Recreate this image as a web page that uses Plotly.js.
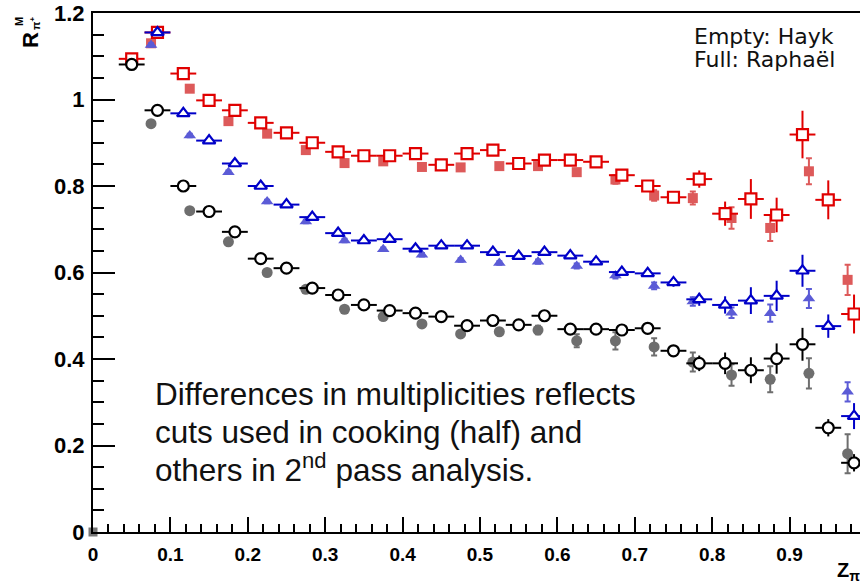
<!DOCTYPE html>
<html>
<head>
<meta charset="utf-8">
<script src="https://cdn.plot.ly/plotly-3.0.1.min.js"></script>
<style>html,body{margin:0;padding:0;background:#fff;overflow:hidden}#chart{width:860px;height:583px}</style>
</head>
<body>
<div id="chart"></div>
<script>
// bin centres (open markers: 1/30 bins; filled markers: 1/20 bins)
const zOpen = [0.05, 0.0833, 0.1167, 0.15, 0.1833, 0.2167, 0.25, 0.2833, 0.3167, 0.35, 0.3833, 0.4167, 0.45, 0.4833, 0.5167, 0.55, 0.5833, 0.6167, 0.65, 0.6833, 0.7167, 0.75, 0.7833, 0.8167, 0.85, 0.8833, 0.9167, 0.95, 0.9833];
const zOpenHalfWidth = 0.0167;
const zFull = [0.075, 0.125, 0.175, 0.225, 0.275, 0.325, 0.375, 0.425, 0.475, 0.525, 0.575, 0.625, 0.675, 0.725, 0.775, 0.825, 0.875, 0.925, 0.975];

// Empty markers (Hayk)
const redOpen   = [1.094, 1.155, 1.06, 0.998, 0.975, 0.946, 0.923, 0.90, 0.879, 0.87, 0.87, 0.875, 0.849, 0.875, 0.883, 0.852, 0.86, 0.86, 0.856, 0.825, 0.80, 0.774, 0.816, 0.736, 0.77, 0.733, 0.919, 0.768, 0.504];
const redOpenErr = [0.005, 0.005, 0.005, 0.005, 0.005, 0.005, 0.005, 0.005, 0.005, 0.005, 0.005, 0.005, 0.005, 0.005, 0.005, 0.005, 0.006, 0.006, 0.006, 0.007, 0.008, 0.01, 0.02, 0.028, 0.046, 0.04, 0.055, 0.045, 0.045];
const blueOpen  = [null, 1.155, 0.968, 0.905, 0.852, 0.80, 0.757, 0.728, 0.691, 0.674, 0.677, 0.655, 0.662, 0.662, 0.647, 0.638, 0.647, 0.639, 0.625, 0.601, 0.598, 0.577, 0.538, 0.525, 0.535, 0.546, 0.604, 0.476, 0.268];
const blueOpenErr = [0.005, 0.005, 0.005, 0.005, 0.005, 0.005, 0.005, 0.005, 0.005, 0.005, 0.005, 0.005, 0.005, 0.005, 0.005, 0.005, 0.006, 0.006, 0.006, 0.007, 0.008, 0.01, 0.015, 0.02, 0.031, 0.035, 0.037, 0.027, 0.03];
const blackOpen = [1.081, 0.975, 0.80, 0.741, 0.694, 0.632, 0.61, 0.564, 0.548, 0.525, 0.512, 0.506, 0.498, 0.477, 0.489, 0.479, 0.50, 0.469, 0.469, 0.467, 0.471, 0.419, 0.39, 0.39, 0.374, 0.401, 0.434, 0.241, 0.16];
const blackOpenErr = [0.004, 0.004, 0.004, 0.004, 0.004, 0.004, 0.004, 0.004, 0.004, 0.004, 0.004, 0.004, 0.004, 0.004, 0.004, 0.004, 0.006, 0.006, 0.006, 0.006, 0.006, 0.01, 0.018, 0.025, 0.03, 0.035, 0.038, 0.02, 0.02];

// Full markers (Raphaël)
const redFull   = [1.13, 1.025, 0.95, 0.921, 0.883, 0.853, 0.857, 0.844, 0.843, 0.846, 0.846, 0.832, 0.815, 0.778, 0.772, 0.726, 0.703, 0.834, 0.583];
const redFullErr = [0.004, 0.004, 0.004, 0.004, 0.004, 0.004, 0.004, 0.004, 0.005, 0.005, 0.006, 0.008, 0.01, 0.012, 0.015, 0.025, 0.03, 0.03, 0.035];
const blueFull  = [1.126, 0.917, 0.832, 0.764, 0.718, 0.674, 0.654, 0.641, 0.629, 0.622, 0.625, 0.615, 0.593, 0.569, 0.533, 0.507, 0.506, 0.54, 0.324];
const blueFullErr = [0.004, 0.004, 0.004, 0.004, 0.004, 0.004, 0.004, 0.004, 0.004, 0.004, 0.005, 0.006, 0.007, 0.008, 0.01, 0.012, 0.02, 0.022, 0.022];
const greyFull  = [0.944, 0.743, 0.671, 0.60, 0.561, 0.515, 0.498, 0.481, 0.458, 0.463, 0.467, 0.442, 0.442, 0.428, 0.393, 0.363, 0.353, 0.367, 0.181];
const greyFullErr = [0.004, 0.004, 0.004, 0.004, 0.004, 0.004, 0.004, 0.005, 0.006, 0.007, 0.01, 0.015, 0.02, 0.02, 0.022, 0.025, 0.03, 0.035, 0.045];
const originZ = [0];
const originR = [0];

const xTickVals = [0, 0.1, 0.2, 0.3, 0.4, 0.5, 0.6, 0.7, 0.8, 0.9];
const yTickVals = [0, 0.2, 0.4, 0.6, 0.8, 1, 1.2];

const RED = '#e00000', RED_F = '#dd5a5a';
const BLUE = '#0000c8', BLUE_F = '#5b5bd6';
const BLACK = '#000000', GREY_F = '#6e6e6e';

function full(y, err, color, symbol, size) {
  return {x: zFull, y: y, type: 'scatter', mode: 'markers', cliponaxis: false,
    marker: {symbol: symbol, size: size, color: color, line: {width: 0}},
    error_y: {type: 'data', array: err, visible: true, color: color, thickness: 2, width: 3}};
}
function open(y, err, color, symbol, size) {
  return {x: zOpen, y: y, type: 'scatter', mode: 'markers', cliponaxis: false,
    marker: {symbol: symbol, size: size, color: '#ffffff', line: {width: 2.2, color: color}},
    error_y: {type: 'data', array: err, visible: true, color: color, thickness: 2, width: 0},
    error_x: {type: 'constant', value: zOpenHalfWidth, visible: true, color: color, thickness: 2, width: 0}};
}

const traces = [
  {x: originZ, y: originR, type: 'scatter', mode: 'markers', cliponaxis: false,
   marker: {symbol: 'square', size: 9, color: '#777777'}},
  full(redFull, redFullErr, RED_F, 'square', 10),
  full(blueFull, blueFullErr, BLUE_F, 'triangle-up', 11),
  full(greyFull, greyFullErr, GREY_F, 'circle', 11),
  open(redOpen, redOpenErr, RED, 'square', 11),
  open(blueOpen, blueOpenErr, BLUE, 'triangle-up', 11),
  open(blackOpen, blackOpenErr, BLACK, 'circle', 11)
];

const X0 = 93, PW = 767; // plot-area pixel geometry helpers for paper coords
function px(p) { return (p - X0) / PW; }
function py(p) { return 1 - (p - 13) / 519; }

const layout = {
  width: 860, height: 583,
  margin: {l: 93, r: 0, t: 13, b: 51, pad: 0},
  paper_bgcolor: '#ffffff', plot_bgcolor: '#ffffff',
  showlegend: false,
  font: {family: 'Liberation Sans, Arial, sans-serif', color: '#000'},
  xaxis: {
    range: [0, 0.991], showgrid: false, zeroline: false,
    showline: true, linecolor: '#000', linewidth: 2, mirror: true,
    ticks: 'inside', ticklen: 15, tickwidth: 2, tickcolor: '#000',
    tickvals: xTickVals, ticktext: xTickVals.map(String),
    tickfont: {family: 'Liberation Sans, Arial, sans-serif', size: 19, weight: 'bold', color: '#000'},
    ticklabelstandoff: 4,
    minor: {dtick: 0.02, tick0: 0, ticks: 'inside', ticklen: 8, tickwidth: 2, tickcolor: '#000', showgrid: false}
  },
  yaxis: {
    range: [0, 1.2], showgrid: false, zeroline: false,
    showline: true, linecolor: '#000', linewidth: 2, mirror: false,
    ticks: 'inside', ticklen: 22, tickwidth: 2, tickcolor: '#000',
    tickvals: yTickVals, ticktext: ['0', '0.2', '0.4', '0.6', '0.8', '1', '1.2'],
    tickfont: {family: 'Liberation Sans, Arial, sans-serif', size: 22, weight: 'bold', color: '#000'},
    ticklabelstandoff: 2,
    minor: {dtick: 0.05, tick0: 0, ticks: 'inside', ticklen: 11, tickwidth: 2, tickcolor: '#000', showgrid: false}
  },
  annotations: [
    {xref: 'paper', yref: 'paper', x: px(692), y: py(37), xanchor: 'left', yanchor: 'middle', showarrow: false,
     text: 'Empty: Hayk', font: {family: 'DejaVu Sans', size: 22, color: '#111'}},
    {xref: 'paper', yref: 'paper', x: px(692), y: py(59), xanchor: 'left', yanchor: 'middle', showarrow: false,
     text: 'Full: Raphaël', font: {family: 'DejaVu Sans', size: 22, color: '#111'}},
    {xref: 'paper', yref: 'paper', x: px(153), y: py(394), xanchor: 'left', yanchor: 'middle', showarrow: false,
     text: 'Differences in multiplicities reflects', font: {family: 'Liberation Sans, Arial', size: 31.5, color: '#111'}},
    {xref: 'paper', yref: 'paper', x: px(153), y: py(432), xanchor: 'left', yanchor: 'middle', showarrow: false,
     text: 'cuts used in cooking (half) and', font: {family: 'Liberation Sans, Arial', size: 31.5, color: '#111'}},
    {xref: 'paper', yref: 'paper', x: px(153), y: py(468), xanchor: 'left', yanchor: 'middle', showarrow: false,
     text: 'others in 2<sup>nd</sup> pass analysis.', font: {family: 'Liberation Sans, Arial', size: 31.5, color: '#111'}},
    // y-axis title R^M_{pi+}
    {xref: 'paper', yref: 'paper', x: px(30), y: py(40), xanchor: 'center', yanchor: 'middle', showarrow: false,
     textangle: -90, text: '<b>R</b>', font: {family: 'Liberation Sans, Arial', size: 22, color: '#000'}},
    {xref: 'paper', yref: 'paper', x: px(19), y: py(22), xanchor: 'center', yanchor: 'middle', showarrow: false,
     textangle: -90, text: '<b>M</b>', font: {family: 'Liberation Sans, Arial', size: 11, color: '#000'}},
    {xref: 'paper', yref: 'paper', x: px(35), y: py(23), xanchor: 'center', yanchor: 'middle', showarrow: false,
     textangle: -90, text: '<b>π<sup>+</sup></b>', font: {family: 'Liberation Sans, Arial', size: 11, color: '#000'}},
    // x-axis title Z_pi
    {xref: 'paper', yref: 'paper', x: px(835), y: py(571), xanchor: 'left', yanchor: 'middle', showarrow: false,
     text: '<b>Z<sub>π</sub></b>', font: {family: 'Liberation Sans, Arial', size: 20, color: '#000'}}
  ]
};

Plotly.newPlot('chart', traces, layout, {staticPlot: true, displayModeBar: false});
</script>
</body>
</html>
